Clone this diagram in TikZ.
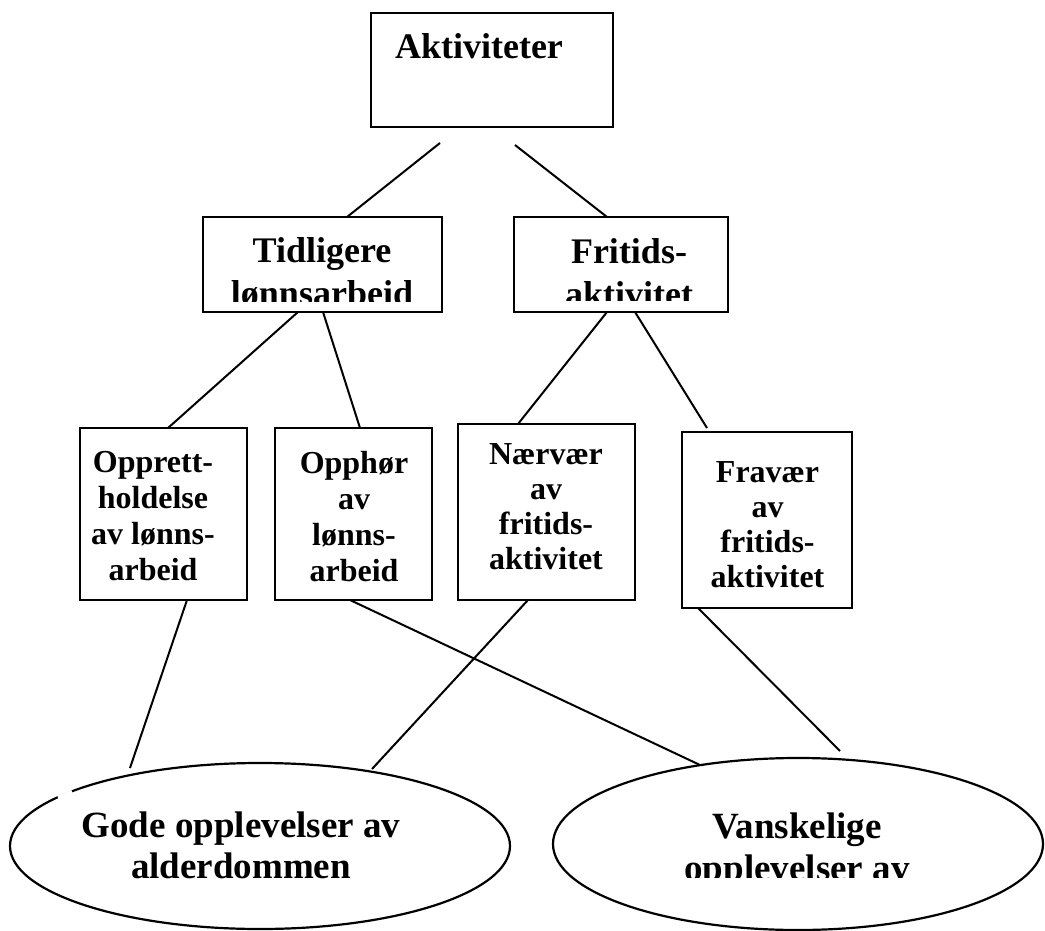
\documentclass[tikz,border=0pt]{standalone}
\usepackage{fontspec}
\setmainfont{Liberation Serif}
\usetikzlibrary{shapes.geometric}
\begin{document}
\begin{tikzpicture}[x=1pt,y=-1pt,
  box/.style={draw, line width=2.2pt, rectangle, inner sep=0pt, outer sep=0pt},
  oval/.style={draw, line width=2.2pt, ellipse, inner sep=0pt, outer sep=0pt},
  big/.style={inner sep=0pt, align=center, anchor=base, font=\bfseries\fontsize{36}{43}\selectfont},
  mid/.style={inner sep=0pt, align=center, anchor=base, font=\bfseries\fontsize{32}{36}\selectfont},
  ovaltxt/.style={inner sep=0pt, align=center, anchor=base, font=\bfseries\fontsize{37}{41}\selectfont},
  link/.style={line width=2pt}]
\useasboundingbox (0,0) rectangle (1045,931);

% boxes
\node[box, minimum width=242pt, minimum height=114pt] (akt) at (492,70) {};
\node[box, minimum width=239pt, minimum height=95pt] (tid) at (322.5,264.5) {};
\node[box, minimum width=214pt, minimum height=95pt] (fri) at (621,264.5) {};
\node[box, minimum width=167pt, minimum height=172pt] (opp) at (163.5,514) {};
\node[box, minimum width=157pt, minimum height=172pt] (oph) at (353.5,514) {};
\node[box, minimum width=177pt, minimum height=176pt] (nar) at (546.5,512) {};
\node[box, minimum width=170pt, minimum height=176pt] (fra) at (767,520) {};

% ellipses
\node[oval, minimum width=500pt, minimum height=166pt] (gode) at (260,846) {};
\node[oval, minimum width=490pt, minimum height=172pt] (vansk) at (798,844) {};
\draw[white, line width=4pt] (58,797.5) -- (72,791.6);

% texts (anchor base = baseline of the last line)
\node[big] (akttxt) at (479,59) {Aktiviteter};
\begin{scope}
  \clip (205,219) rectangle (440,301);
  \node[big] (tidtxt) at (322,305) {Tidligere\\lønnsarbeid};
\end{scope}
\begin{scope}
  \clip (516,219) rectangle (726,300);
  \node[big] (fritxt) at (629,306) {Fritids-\\aktivitet};
\end{scope}
\node[mid] (opptxt) at (153,580) {Opprett-\\holdelse\\av lønns-\\arbeid};
\node[mid] (ophtxt) at (354,581) {Opphør\\av\\lønns-\\arbeid};
\node[mid, font=\bfseries\fontsize{32}{34.7}\selectfont] (nartxt) at (546,569) {Nærvær\\av\\fritids-\\aktivitet};
\node[mid, font=\bfseries\fontsize{32}{34.7}\selectfont] (fratxt) at (767.5,587) {Fravær\\av\\fritids-\\aktivitet};
\node[ovaltxt] (godetxt) at (241,878) {Gode opplevelser av\\alderdommen};
\begin{scope}
  \clip (600,790) rectangle (1000,877);
  \node[ovaltxt, font=\bfseries\fontsize{37}{42}\selectfont] (vansktxt) at (797,880) {Vanskelige\\opplevelser av};
\end{scope}

% connector end points
\coordinate (a1) at (440,143);
\coordinate (a2) at (515,145);
\coordinate (t1) at (347,217);
\coordinate (f1) at (607,217);
\coordinate (tb1) at (298,312);
\coordinate (tb2) at (323,312);
\coordinate (fb1) at (607,312);
\coordinate (fb2) at (635,312);
\coordinate (oppt) at (168,428);
\coordinate (opht) at (360,428);
\coordinate (nart) at (518,424);
\coordinate (frat) at (707,428);
\coordinate (oppb) at (187,600);
\coordinate (ophb) at (350,600);
\coordinate (narb) at (528,600);
\coordinate (frab) at (698,608);
\coordinate (g1) at (130,768);
\coordinate (g2) at (372,769);
\coordinate (v1) at (700,765);
\coordinate (v2) at (840,751);

% connectors
\draw[link] (a1) -- (t1);
\draw[link] (a2) -- (f1);
\draw[link] (tb1) -- (oppt);
\draw[link] (tb2) -- (opht);
\draw[link] (fb1) -- (nart);
\draw[link] (fb2) -- (frat);
\draw[link] (oppb) -- (g1);
\draw[link] (ophb) -- (v1);
\draw[link] (narb) -- (g2);
\draw[link] (frab) -- (v2);
\end{tikzpicture}
\end{document}
